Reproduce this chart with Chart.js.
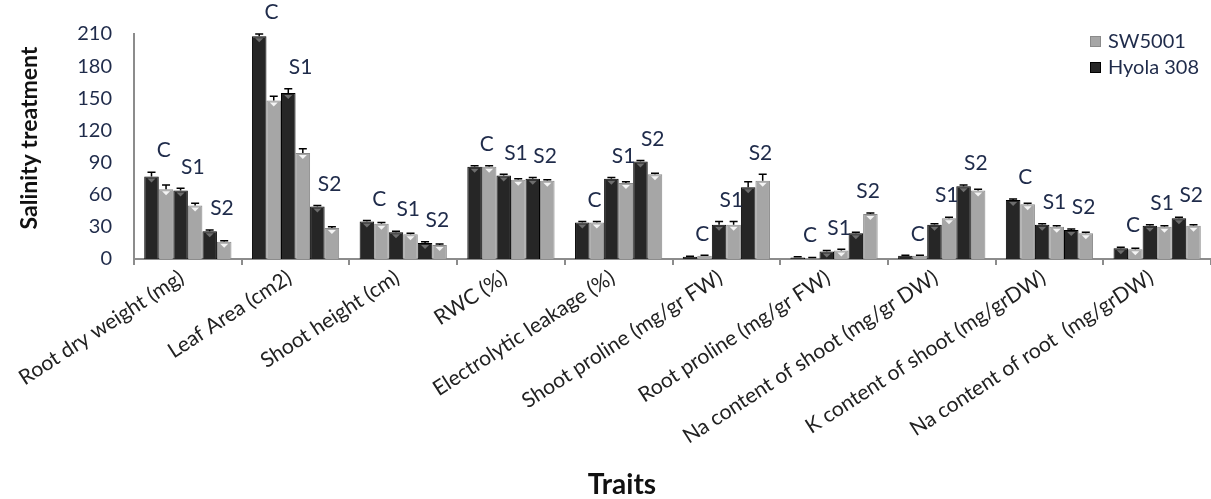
<!DOCTYPE html>
<html>
<head>
<meta charset="utf-8">
<script src="https://cdn.jsdelivr.net/npm/chart.js@4.4.1/dist/chart.umd.min.js"></script>
<style>
  html, body { margin: 0; padding: 0; background: #fff; }
  #wrap { width: 1211px; height: 499px; }
</style>
</head>
<body>
<div id="wrap"><canvas id="chart" width="1211" height="499"></canvas></div>
<script>
const categories = [
    'Root dry weight (mg)', 'Leaf Area (cm2)', 'Shoot height (cm)', 'RWC (%)',
    'Electrolytic leakage (%)', 'Shoot proline (mg/gr FW)', 'Root proline (mg/gr FW)',
    'Na content of shoot (mg/gr DW)', 'K content of shoot (mg/grDW)', 'Na content of root  (mg/grDW)'
];
const treatments = ['C', 'S1', 'S2'];
const yTicks = [0, 30, 60, 90, 120, 150, 180, 210];

// values per treatment, Hyola 308 (dark) and SW5001 (light)
const hyolaC = [77, 208, 35, 86, 34, 2, 1.5, 3, 55, 10];
const swC = [65, 148, 33, 86, 34, 3, 1, 3, 51, 9];
const hyolaS1 = [64, 155, 25, 78, 75, 32, 7, 32, 32, 31];
const swS1 = [50, 99, 23, 74, 71, 32, 8, 38, 30, 30];
const hyolaS2 = [26, 49, 15, 75, 91, 67, 24, 68, 27, 38];
const swS2 = [16, 29, 13, 73, 79, 73, 42, 64, 24, 31];

// error bar half-lengths
const hyolaCErr = [4, 2, 1, 1, 1, 0.5, 0.5, 0.5, 1, 1];
const swCErr = [4, 4, 1, 1, 1, 0.5, 0.5, 0.5, 1, 1];
const hyolaS1Err = [2, 4, 1, 1, 1, 3, 1, 1, 1, 1];
const swS1Err = [2, 4, 1, 1, 1, 3, 1, 1, 1, 1];
const hyolaS2Err = [1, 1, 1, 1, 1, 5, 1, 1, 1, 1];
const swS2Err = [1, 1, 1, 1, 1, 6, 1, 1, 1, 1];

const DARK = '#262626';
const LIGHT = '#a6a6a6';
const NAVY = '#1f2b4a';
const FONT = 'Lato, "Open Sans", sans-serif';

function darkSet(label, data, errors) {
    return { label, data, errors, bevel: '#6e6e6e', backgroundColor: DARK, borderColor: '#000', borderWidth: 1 };
}
function lightSet(label, data, errors) {
    return { label, data, errors, bevel: '#f4f4f4', backgroundColor: LIGHT, borderColor: '#8a8a8a', borderWidth: 1 };
}

const overlay = {
    id: 'overlay',
    afterDatasetsDraw(chart) {
        const ctx = chart.ctx;
        const y = chart.scales.y;
        const sets = chart.data.datasets;
        ctx.save();
        // bevel tip + error bars
        sets.forEach((ds, di) => {
            chart.getDatasetMeta(di).data.forEach((bar, i) => {
                if (bar.base - bar.y > 7) {
                    ctx.fillStyle = ds.bevel;
                    ctx.beginPath();
                    ctx.moveTo(bar.x - 4, bar.y + 2);
                    ctx.lineTo(bar.x + 4, bar.y + 2);
                    ctx.lineTo(bar.x, bar.y + 6);
                    ctx.closePath();
                    ctx.fill();
                }
                const top = y.getPixelForValue(ds.data[i] + ds.errors[i]);
                ctx.strokeStyle = '#000';
                ctx.lineWidth = 1.5;
                ctx.beginPath();
                ctx.moveTo(bar.x, bar.y);
                ctx.lineTo(bar.x, top);
                ctx.moveTo(bar.x - 4, top);
                ctx.lineTo(bar.x + 4, top);
                ctx.stroke();
            });
        });
        // treatment labels over each pair
        ctx.fillStyle = NAVY;
        ctx.font = '21px ' + FONT;
        ctx.textAlign = 'center';
        ctx.textBaseline = 'bottom';
        categories.forEach((c, i) => {
            treatments.forEach((t, p) => {
                const a = sets[2 * p], b = sets[2 * p + 1];
                const ba = chart.getDatasetMeta(2 * p).data[i];
                const bb = chart.getDatasetMeta(2 * p + 1).data[i];
                const topVal = Math.max(a.data[i] + a.errors[i], b.data[i] + b.errors[i]);
                const ty = y.getPixelForValue(topVal) - 11;
                ctx.fillText(t, (ba.x + bb.x) / 2 + 5, ty);
            });
        });
        ctx.restore();
    },
    afterDraw(chart) {
        const ctx = chart.ctx;
        ctx.save();
        // axis titles
        ctx.fillStyle = '#111';
        ctx.font = 'bold 23px ' + FONT;
        ctx.textAlign = 'center';
        ctx.textBaseline = 'middle';
        ctx.translate(30, 138);
        ctx.rotate(-Math.PI / 2);
        ctx.fillText('Salinity treatment', 0, 0);
        ctx.setTransform(1, 0, 0, 1, 0, 0);
        ctx.font = 'bold 28px ' + FONT;
        ctx.fillText('Traits', 622, 485);
        // legend
        ctx.font = '20px ' + FONT;
        ctx.textAlign = 'left';
        ctx.fillStyle = LIGHT;
        ctx.strokeStyle = '#8a8a8a';
        ctx.fillRect(1090, 36, 11, 11);
        ctx.strokeRect(1090.5, 36.5, 10, 10);
        ctx.fillStyle = DARK;
        ctx.strokeStyle = '#000';
        ctx.fillRect(1090, 62, 11, 11);
        ctx.strokeRect(1090.5, 62.5, 10, 10);
        ctx.fillStyle = NAVY;
        ctx.fillText('SW5001', 1108, 42);
        ctx.fillText('Hyola 308', 1108, 68);
        ctx.restore();
    }
};

new Chart(document.getElementById('chart').getContext('2d'), {
    type: 'bar',
    data: {
        labels: categories,
        datasets: [
            darkSet('Hyola 308 C', hyolaC, hyolaCErr),
            lightSet('SW5001 C', swC, swCErr),
            darkSet('Hyola 308 S1', hyolaS1, hyolaS1Err),
            lightSet('SW5001 S1', swS1, swS1Err),
            darkSet('Hyola 308 S2', hyolaS2, hyolaS2Err),
            lightSet('SW5001 S2', swS2, swS2Err),
        ],
    },
    options: {
        responsive: false,
        animation: false,
        layout: { padding: { top: 30, right: 0, left: 0, bottom: 0 } },
        datasets: { bar: { barPercentage: 1, categoryPercentage: 0.81 } },
        scales: {
            x: {
                afterFit: (s) => { s.height = 240; },
                grid: { display: true, drawOnChartArea: false, drawTicks: true, tickLength: 6, color: '#8c8c8c', lineWidth: 2, offset: true },
                border: { display: true, color: '#8c8c8c', width: 2 },
                ticks: {
                    autoSkip: false,
                    minRotation: 33,
                    maxRotation: 33,
                    padding: 0,
                    labelOffset: -6,
                    color: '#222',
                    font: { family: FONT, size: 21 },
                },
            },
            y: {
                min: 0,
                max: 210,
                afterFit: (s) => { s.width = 134; },
                afterBuildTicks: (s) => { s.ticks = yTicks.map(v => ({ value: v })); },
                grid: { display: false, drawTicks: false },
                border: { display: true, color: '#8c8c8c', width: 2 },
                ticks: {
                    padding: 22,
                    color: NAVY,
                    font: { family: FONT, size: 20 },
                },
            },
        },
        plugins: {
            legend: { display: false },
            tooltip: { enabled: false },
        },
    },
    plugins: [overlay],
});
</script>
</body>
</html>
